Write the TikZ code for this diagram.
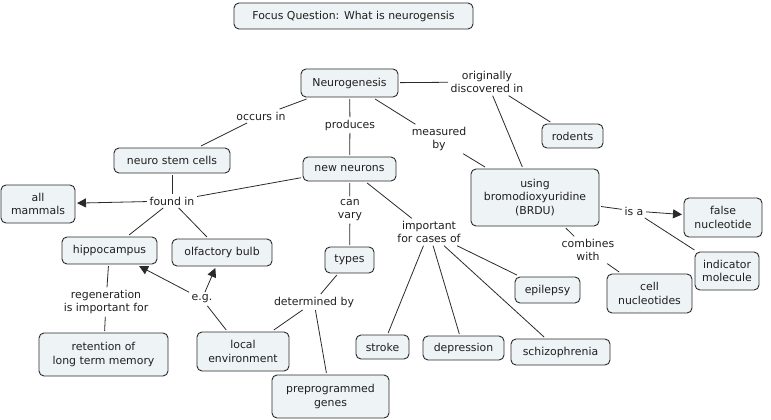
\documentclass[tikz,border=0pt]{standalone}
\usepackage{fontspec}
\setmainfont{DejaVu Sans}
\usetikzlibrary{arrows.meta}
\definecolor{cfill}{HTML}{EEF3F5}
\definecolor{cline}{HTML}{2A2A2A}
\begin{document}
\begin{tikzpicture}[x=1pt,y=-1pt,
  concept/.style={draw=cline,line width=0.9pt,fill=cfill,rounded corners=5pt,
    inner sep=0pt,outer sep=2pt,align=center,text=black!88,
    font=\fontsize{10.9}{13.5}\selectfont},
  lbl/.style={inner sep=2.5pt,align=center,text=black!88,
    font=\fontsize{10.9}{13.5}\selectfont},
  link/.style={draw=cline,line width=0.8pt},
  arr/.style={link,-{Triangle[length=9pt,width=9pt]}}]
\useasboundingbox (0,0) rectangle (771,420);
% concepts
\node[concept,minimum width=239,minimum height=26] (focus) at (353.5,16) {Focus Question: What is neurogensis};
\node[concept,minimum width=97,minimum height=28] (neuro) at (349.5,83) {Neurogenesis};
\node[concept,minimum width=116,minimum height=25] (nsc) at (172,160.5) {neuro stem cells};
\node[concept,minimum width=93,minimum height=24] (nn) at (349.5,169) {new neurons};
\node[concept,minimum width=74,minimum height=38] (allm) at (38,204) {all\\mammals};
\node[concept,minimum width=95,minimum height=27] (hippo) at (109.5,250.5) {hippocampus};
\node[concept,minimum width=100,minimum height=27] (olf) at (222,252.5) {olfactory bulb};
\node[concept,minimum width=129,minimum height=43] (ret) at (103.5,354.5) {retention of\\long term memory};
\node[concept,minimum width=92,minimum height=39] (local) at (243,351.5) {local\\environment};
\node[concept,minimum width=49,minimum height=26] (types) at (349.5,260) {types};
\node[concept,minimum width=117,minimum height=43] (pre) at (330.5,396.5) {preprogrammed\\genes};
\node[concept,minimum width=53,minimum height=24] (stroke) at (382.5,347) {stroke};
\node[concept,minimum width=81,minimum height=24] (dep) at (463.5,348) {depression};
\node[concept,minimum width=99,minimum height=26] (schizo) at (560.5,352) {schizophrenia};
\node[concept,minimum width=65,minimum height=26] (epi) at (547.5,290) {epilepsy};
\node[concept,minimum width=128,minimum height=57] (brdu) at (535,197.5) {using\\bromodioxyuridine\\(BRDU)};
\node[concept,minimum width=61,minimum height=24] (rod) at (572.5,136) {rodents};
\node[concept,minimum width=78,minimum height=39] (falsen) at (723,217.5) {false\\nucleotide};
\node[concept,minimum width=64,minimum height=38] (indic) at (727,271) {indicator\\molecule};
\node[concept,minimum width=85,minimum height=39] (cellnuc) at (649.5,293.5) {cell\\nucleotides};
% linking phrases
\node[lbl] (occurs) at (261,116) {occurs in};
\node[lbl] (produces) at (350,125) {produces};
\node[lbl] (foundin) at (172,201) {found in};
\node[lbl] (canvary) at (350,210) {can\\vary};
\node[lbl] (imp) at (429,232) {important\\for cases of};
\node[lbl] (regen) at (106,302) {regeneration\\is important for};
\node[lbl] (eg) at (202,299) {e.g.};
\node[lbl] (detby) at (314,302) {determined by};
\node[lbl] (meas) at (439,139) {measured\\by};
\node[lbl] (orig) at (487,82) {originally\\discovered in};
\node[lbl] (isa) at (634,211) {is a};
\node[lbl] (comb) at (588,250) {combines\\with};
% connectors
\draw[link] (neuro) -- (occurs);
\draw[link] (occurs) -- (nsc);
\draw[link] (neuro) -- (produces);
\draw[link] (produces) -- (nn);
\draw[link] (neuro) -- (meas);
\draw[link] (meas) -- (brdu);
\draw[link] (neuro) -- (orig);
\draw[link] (orig) -- (rod);
\draw[link] (orig) -- (brdu);
\draw[link] (nsc) -- (foundin);
\draw[link] (nn) -- (foundin);
\draw[arr] (foundin) -- (allm);
\draw[link] (foundin) -- (hippo);
\draw[link] (foundin) -- (olf);
\draw[link] (hippo) -- (regen);
\draw[link] (regen) -- (ret);
\draw[link] (local) -- (eg);
\draw[arr] (eg) -- (hippo);
\draw[arr] (eg) -- (olf);
\draw[link] (nn) -- (canvary);
\draw[link] (canvary) -- (types);
\draw[link] (types) -- (detby);
\draw[link] (detby) -- (local);
\draw[link] (detby) -- (pre);
\draw[link] (nn) -- (imp);
\draw[link] (imp) -- (stroke);
\draw[link] (imp) -- (dep);
\draw[link] (imp) -- (schizo);
\draw[link] (imp) -- (epi);
\draw[link] (brdu) -- (isa);
\draw[arr] (isa) -- (falsen);
\draw[link] (isa) -- (indic);
\draw[link] (brdu) -- (comb);
\draw[link] (comb) -- (cellnuc);
\end{tikzpicture}
\end{document}
